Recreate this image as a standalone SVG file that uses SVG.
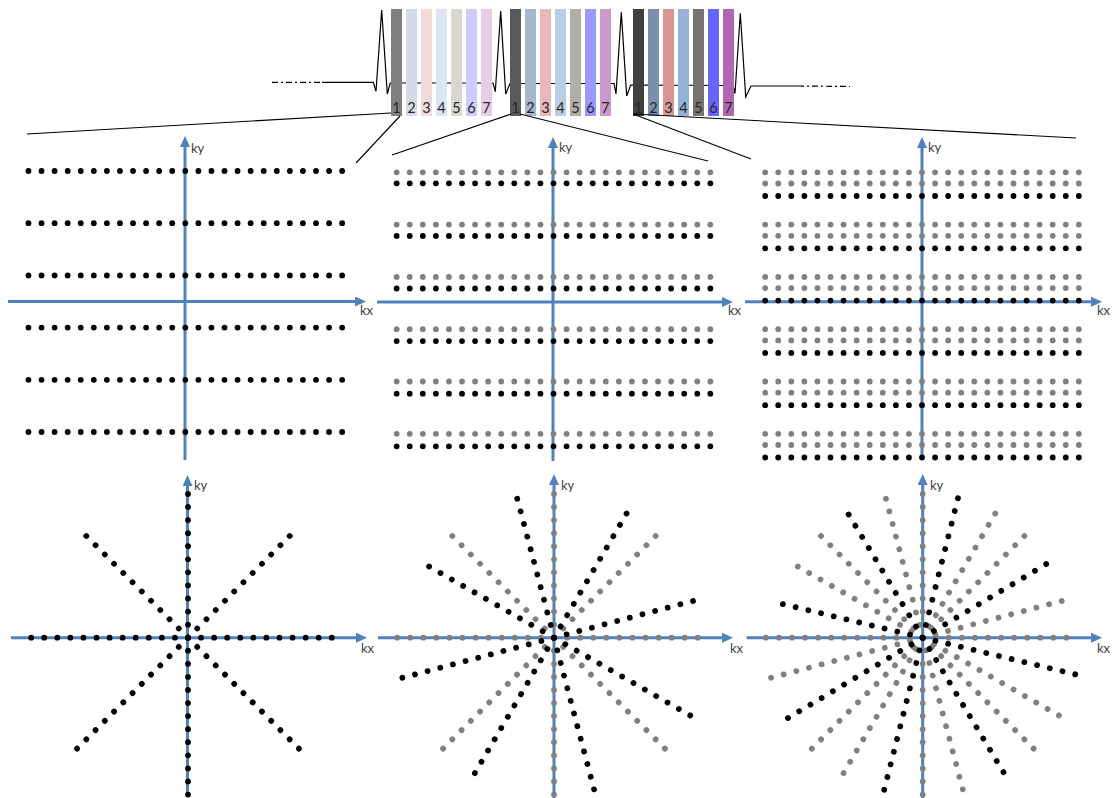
<svg xmlns="http://www.w3.org/2000/svg" xmlns:xlink="http://www.w3.org/1999/xlink" width="1113" height="798" viewBox="0 0 1113 798">
<style>
.ax{stroke:#4f81bd;stroke-width:3;fill:none;marker-end:url(#arr)}
.lbl{font-family:Lato,"Liberation Sans",sans-serif;font-size:13px;fill:#404040}
.num{font-family:Lato,"Liberation Sans",sans-serif;font-size:14.5px;fill:#262626;text-anchor:middle}
.con{stroke:#000;stroke-width:1.1;fill:none}
.ecg{stroke:#000;stroke-width:1.2;fill:none;stroke-linejoin:miter}
.g{fill:#808080}
.k{fill:#000}
</style>
<defs>
<marker id="arr" viewBox="0 0 11 10" refX="1" refY="5" markerWidth="11" markerHeight="10" markerUnits="userSpaceOnUse" orient="auto">
<path d="M0,0 L11,5 L0,10 z" fill="#4f81bd"/>
</marker>
<g id="spoke">
<circle cx="-156.84" cy="0" r="2.9"/><circle cx="-143.77" cy="0" r="2.9"/><circle cx="-130.70" cy="0" r="2.9"/><circle cx="-117.63" cy="0" r="2.9"/><circle cx="-104.56" cy="0" r="2.9"/><circle cx="-91.49" cy="0" r="2.9"/><circle cx="-78.42" cy="0" r="2.9"/><circle cx="-65.35" cy="0" r="2.9"/><circle cx="-52.28" cy="0" r="2.9"/><circle cx="-39.21" cy="0" r="2.9"/><circle cx="-26.14" cy="0" r="2.9"/><circle cx="-13.07" cy="0" r="2.9"/><circle cx="0" cy="0" r="2.9"/><circle cx="13.07" cy="0" r="2.9"/><circle cx="26.14" cy="0" r="2.9"/><circle cx="39.21" cy="0" r="2.9"/><circle cx="52.28" cy="0" r="2.9"/><circle cx="65.35" cy="0" r="2.9"/><circle cx="78.42" cy="0" r="2.9"/><circle cx="91.49" cy="0" r="2.9"/><circle cx="104.56" cy="0" r="2.9"/><circle cx="117.63" cy="0" r="2.9"/><circle cx="130.70" cy="0" r="2.9"/><circle cx="143.77" cy="0" r="2.9"/>
</g>
<g id="row">
<use xlink:href="#spoke"/><circle cx="156.84" cy="0" r="2.9"/>
</g>
</defs>
<rect width="1113" height="798" fill="#fff"/>

<g id="ecg">
<path class="ecg" d="M272,82.3 L322,82.3" stroke-dasharray="6 3 2 3"/>
<path class="ecg" d="M322,82.3 L373.3,82.3 L376,91.3 L381.7,10 L387.3,94 L390.3,83 L493,83 L495.3,91.7 L500.7,11 L505.7,94 L510,83.5 L614,83.5 L616,94 L621.3,12.3 L626.7,96 L630.7,85 L733,85.5 L735,93.5 L740.3,13.3 L745.7,97 L751,86 L798,86"/>
<path class="ecg" d="M798,86 L850,86.5" stroke-dasharray="6 3 2 3"/>
</g>

<g id="frame1">
<rect x="391" y="9" width="11" height="107" fill="#7f7f7f"/>
<rect x="406" y="9" width="11" height="107" fill="#d6dce5"/>
<rect x="421" y="9" width="11" height="107" fill="#f2dcdb"/>
<rect x="436" y="9" width="11" height="107" fill="#dce6f2"/>
<rect x="451" y="9" width="11" height="107" fill="#d8d6cd"/>
<rect x="466" y="9" width="11" height="107" fill="#ccccff"/>
<rect x="481" y="9" width="11" height="107" fill="#e6cce6"/>
<text class="num" x="396.5" y="112.5">1</text><text class="num" x="411.5" y="112.5">2</text><text class="num" x="426.5" y="112.5">3</text><text class="num" x="441.5" y="112.5">4</text><text class="num" x="456.5" y="112.5">5</text><text class="num" x="471.5" y="112.5">6</text><text class="num" x="486.5" y="112.5">7</text>
</g>
<g id="frame2">
<rect x="510" y="9" width="11" height="107" fill="#595959"/>
<rect x="525" y="9" width="11" height="107" fill="#a6b6cc"/>
<rect x="540" y="9" width="11" height="107" fill="#e6b8b7"/>
<rect x="555" y="9" width="11" height="107" fill="#b9cde5"/>
<rect x="570" y="9" width="11" height="107" fill="#b1b0a8"/>
<rect x="585" y="9" width="11" height="107" fill="#9999ff"/>
<rect x="600" y="9" width="11" height="107" fill="#cc99cc"/>
<text class="num" x="515.5" y="112.5">1</text><text class="num" x="530.5" y="112.5">2</text><text class="num" x="545.5" y="112.5">3</text><text class="num" x="560.5" y="112.5">4</text><text class="num" x="575.5" y="112.5">5</text><text class="num" x="590.5" y="112.5">6</text><text class="num" x="605.5" y="112.5">7</text>
</g>
<g id="frame3">
<rect x="633" y="9" width="11" height="107" fill="#404040"/>
<rect x="648" y="9" width="11" height="107" fill="#7a91ae"/>
<rect x="663" y="9" width="11" height="107" fill="#da9694"/>
<rect x="678" y="9" width="11" height="107" fill="#95b3d7"/>
<rect x="693" y="9" width="11" height="107" fill="#76746e"/>
<rect x="708" y="9" width="11" height="107" fill="#6666ff"/>
<rect x="723" y="9" width="11" height="107" fill="#b066b3"/>
<text class="num" x="638.5" y="112.5">1</text><text class="num" x="653.5" y="112.5">2</text><text class="num" x="668.5" y="112.5">3</text><text class="num" x="683.5" y="112.5">4</text><text class="num" x="698.5" y="112.5">5</text><text class="num" x="713.5" y="112.5">6</text><text class="num" x="728.5" y="112.5">7</text>
</g>

<g id="connectors">
<line class="con" x1="391" y1="113" x2="27" y2="134"/>
<line class="con" x1="400" y1="116" x2="356" y2="163"/>
<line class="con" x1="511" y1="114" x2="392" y2="155"/>
<line class="con" x1="520" y1="114" x2="708" y2="161"/>
<line class="con" x1="633" y1="114" x2="751" y2="159"/>
<line class="con" x1="634" y1="114" x2="1076" y2="138"/>
</g>

<g id="cart1">
<line class="ax" x1="8" y1="301.5" x2="356" y2="301.5"/>
<line class="ax" x1="185" y1="460" x2="185" y2="146"/>
<text class="lbl" x="191" y="153">ky</text>
<text class="lbl" x="360" y="315">kx</text>
<g class="k">
<use xlink:href="#row" x="185.3" y="171"/><use xlink:href="#row" x="185.3" y="223.2"/><use xlink:href="#row" x="185.3" y="275.4"/><use xlink:href="#row" x="185.3" y="327.6"/><use xlink:href="#row" x="185.3" y="379.8"/><use xlink:href="#row" x="185.3" y="432"/>
</g>
</g>

<g id="cart2">
<line class="ax" x1="377" y1="302" x2="723" y2="302"/>
<line class="ax" x1="553" y1="461" x2="553" y2="147"/>
<text class="lbl" x="559" y="152">ky</text>
<text class="lbl" x="728" y="315">kx</text>
<g class="g">
<use xlink:href="#row" x="553.5" y="172.3"/><use xlink:href="#row" x="553.5" y="224.6"/><use xlink:href="#row" x="553.5" y="276.9"/><use xlink:href="#row" x="553.5" y="329.2"/><use xlink:href="#row" x="553.5" y="381.5"/><use xlink:href="#row" x="553.5" y="433.8"/>
</g>
<g class="k">
<use xlink:href="#row" x="553.5" y="183.3"/><use xlink:href="#row" x="553.5" y="235.9"/><use xlink:href="#row" x="553.5" y="288.5"/><use xlink:href="#row" x="553.5" y="341.1"/><use xlink:href="#row" x="553.5" y="393.7"/><use xlink:href="#row" x="553.5" y="446.3"/>
</g>
</g>

<g id="cart3">
<line class="ax" x1="745" y1="301.7" x2="1092" y2="301.7"/>
<line class="ax" x1="922" y1="457" x2="922" y2="147"/>
<text class="lbl" x="928" y="152">ky</text>
<text class="lbl" x="1097" y="315">kx</text>
<g class="g">
<use xlink:href="#row" x="922" y="172.3"/><use xlink:href="#row" x="922" y="224.6"/><use xlink:href="#row" x="922" y="276.9"/><use xlink:href="#row" x="922" y="329.2"/><use xlink:href="#row" x="922" y="381.5"/><use xlink:href="#row" x="922" y="433.8"/>
<use xlink:href="#row" x="922" y="183.5"/><use xlink:href="#row" x="922" y="235.8"/><use xlink:href="#row" x="922" y="288.1"/><use xlink:href="#row" x="922" y="340.4"/><use xlink:href="#row" x="922" y="392.7"/><use xlink:href="#row" x="922" y="445"/>
</g>
<g class="k">
<use xlink:href="#row" x="922" y="196"/><use xlink:href="#row" x="922" y="248.3"/><use xlink:href="#row" x="922" y="300.6"/><use xlink:href="#row" x="922" y="352.9"/><use xlink:href="#row" x="922" y="405.2"/><use xlink:href="#row" x="922" y="457.5"/>
</g>
</g>

<g id="radial1">
<line class="ax" x1="11" y1="637.7" x2="357" y2="637.7"/>
<line class="ax" x1="187.5" y1="797" x2="187.5" y2="485"/>
<text class="lbl" x="194" y="490">ky</text>
<text class="lbl" x="361" y="653">kx</text>
<g class="k" transform="translate(188,637.7)">
<use xlink:href="#spoke"/><use xlink:href="#spoke" transform="rotate(-45)"/><use xlink:href="#spoke" transform="rotate(-90)"/><use xlink:href="#spoke" transform="rotate(-135)"/>
</g>
</g>

<g id="radial2">
<line class="ax" x1="378" y1="637.7" x2="723" y2="637.7"/>
<line class="ax" x1="554" y1="798" x2="554" y2="484"/>
<text class="lbl" x="561" y="490">ky</text>
<text class="lbl" x="730" y="653">kx</text>
<g class="g" transform="translate(554,637.7)">
<use xlink:href="#spoke"/><use xlink:href="#spoke" transform="rotate(-45)"/><use xlink:href="#spoke" transform="rotate(-90)"/><use xlink:href="#spoke" transform="rotate(-135)"/>
</g>
<g class="k" transform="translate(554,637.7)">
<use xlink:href="#spoke" transform="rotate(-14.8)"/><use xlink:href="#spoke" transform="rotate(-59.7)"/><use xlink:href="#spoke" transform="rotate(-104.8)"/><use xlink:href="#spoke" transform="rotate(-150.3)"/>
</g>
</g>

<g id="radial3">
<line class="ax" x1="746.7" y1="637.7" x2="1092" y2="637.7"/>
<line class="ax" x1="922.7" y1="798" x2="922.7" y2="484"/>
<text class="lbl" x="930" y="490">ky</text>
<text class="lbl" x="1097" y="653">kx</text>
<g class="g" transform="translate(922.7,637.7)">
<use xlink:href="#spoke"/><use xlink:href="#spoke" transform="rotate(-45)"/><use xlink:href="#spoke" transform="rotate(-90)"/><use xlink:href="#spoke" transform="rotate(-135)"/>
<use xlink:href="#spoke" transform="rotate(-14.8)"/><use xlink:href="#spoke" transform="rotate(-59.7)"/><use xlink:href="#spoke" transform="rotate(-104.8)"/><use xlink:href="#spoke" transform="rotate(-150.3)"/>
</g>
<g class="k" transform="translate(922.7,637.7)">
<use xlink:href="#spoke" transform="rotate(-30.8)"/><use xlink:href="#spoke" transform="rotate(-75.8)"/><use xlink:href="#spoke" transform="rotate(-121)"/><use xlink:href="#spoke" transform="rotate(-166.5)"/>
</g>
</g>
</svg>
